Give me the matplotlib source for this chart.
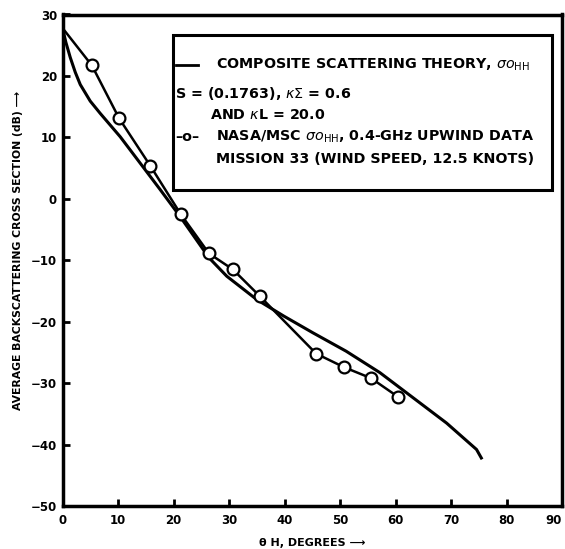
import matplotlib
matplotlib.use("Agg")
import matplotlib.pyplot as plt
from matplotlib.patches import Rectangle
from matplotlib.lines import Line2D

# Theory curve (composite scattering theory)
theory_x = [0, 0.6, 1.4, 2.3, 3.2, 5.0, 6.8, 8.6, 10.4, 14.0, 17.6, 21.2, 26.4, 29.6,
            35.0, 39.9, 45.1, 51.1, 57.2, 63.2, 69.2, 74.6, 75.6]
theory_y = [27.8, 25.5, 23.0, 20.6, 18.6, 15.9, 13.9, 12.0, 10.1, 5.8, 1.5, -2.9, -9.6, -12.6,
            -16.4, -19.1, -21.8, -24.8, -28.3, -32.4, -36.5, -40.8, -42.4]

# NASA/MSC measured data (first point is line start without marker)
data_x = [0, 5.3, 10.2, 15.8, 21.3, 26.4, 30.7, 35.5, 45.7, 50.7, 55.6, 60.4]
data_y = [27.8, 21.7, 13.1, 5.4, -2.5, -8.9, -11.5, -15.8, -25.2, -27.4, -29.2, -32.2]

x_ticks = [0, 10, 20, 30, 40, 50, 60, 70, 80, 90]
y_ticks = [30, 20, 10, 0, -10, -20, -30, -40, -50]

fig = plt.figure(figsize=(5.65, 5.49), dpi=100)
ax = fig.add_axes([62.5 / 565, 1 - 506 / 549, (562 - 62.5) / 565, (506 - 14.5) / 549])

ax.plot(theory_x, theory_y, color="black", lw=2.2, solid_capstyle="butt", solid_joinstyle="round")
ax.plot(data_x, data_y, color="black", lw=1.8, marker="o", markevery=list(range(1, len(data_x))),
        markersize=8.5, markerfacecolor="white", markeredgecolor="black", markeredgewidth=1.6)

ax.set_xlim(0, 90)
ax.set_ylim(-50, 30)
ax.set_xticks(x_ticks)
ax.set_yticks(y_ticks)
ax.set_xticklabels([str(v) for v in x_ticks], fontweight="bold", fontsize=8.5)
ax.set_yticklabels([("\u2212" + str(-v)) if v < 0 else str(v) for v in y_ticks],
                   fontweight="bold", fontsize=8.5)
ax.tick_params(direction="in", length=5, width=2, pad=4)
ax.tick_params(axis="x", pad=6)
ax.get_xticklabels()[-1].set_horizontalalignment("right")
for s in ax.spines.values():
    s.set_linewidth(2.5)

ax.set_xlabel("\u03b8 H, DEGREES \u27f6", fontweight="bold", fontsize=8, labelpad=8)
ax.set_ylabel("AVERAGE BACKSCATTERING CROSS SECTION (dB) \u27f6", fontweight="bold",
              fontsize=7.8)
ax.yaxis.set_label_coords(-0.08, 0.52)

# Legend box drawn manually (pixel positions -> axes fraction)
def ax_frac(px, py):
    return ((px - 62.5) / 499.5, (506 - py) / 491.5)

x0, y0 = ax_frac(173, 190)
x1, y1 = ax_frac(552, 35)
ax.add_patch(Rectangle((x0, y0), x1 - x0, y1 - y0, transform=ax.transAxes,
                       facecolor="white", edgecolor="black", lw=2.2, zorder=5))

fp = dict(fontfamily="DejaVu Sans", fontweight="bold", fontsize=10.3,
          transform=ax.transAxes, va="center", ha="left", zorder=6)

a, b = ax_frac(176, 65)
c, _ = ax_frac(198, 65)
ax.add_line(Line2D([a, c], [b, b], transform=ax.transAxes, color="black", lw=2, zorder=6))
ax.text(*ax_frac(216, 65), r"COMPOSITE SCATTERING THEORY, $\sigma o_{\mathrm{HH}}$", **fp)
ax.text(*ax_frac(175, 93), r"S = (0.1763), $\kappa\Sigma$ = 0.6", **fp)
ax.text(*ax_frac(210, 115), r"AND $\kappa$L = 20.0", **fp)
ax.text(*ax_frac(175, 137), "\u2013o\u2013", **fp)
ax.text(*ax_frac(216, 137), r"NASA/MSC $\sigma o_{\mathrm{HH}}$, 0.4-GHz UPWIND DATA", **fp)
ax.text(*ax_frac(216, 159), "MISSION 33 (WIND SPEED, 12.5 KNOTS)", **fp)

fig.savefig("out.png", dpi=100)
